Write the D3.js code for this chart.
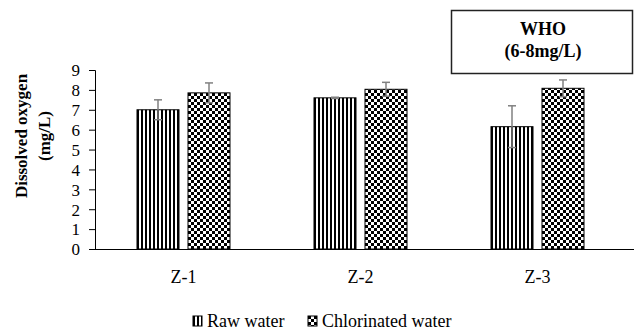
<!DOCTYPE html>
<html>
<head>
<meta charset="utf-8">
<script src="https://cdn.jsdelivr.net/npm/d3@7"></script>
<style>
  body { margin: 0; background: #fff; }
  svg text { font-family: "Liberation Serif", "Times New Roman", "DejaVu Serif", serif !important; fill: #000; }
</style>
</head>
<body>
<div id="chart"></div>
<script>
// datos
const zones = ["Z-1", "Z-2", "Z-3"];
const seriesNames = ["Raw water", "Chlorinated water"];
const rawValues = [7.0, 7.6, 6.15];
const rawErrors = [0.5, 0.03, 1.05];
const chlorValues = [7.85, 8.03, 8.08];
const chlorErrors = [0.5, 0.35, 0.42];
const yTicks = [0, 1, 2, 3, 4, 5, 6, 7, 8, 9];

const width = 634;
const height = 331;
const marginLeft = 95;
const marginTop = 70;
const plotBottom = 249;

const svg = d3.select("#chart").append("svg")
  .attr("width", width)
  .attr("height", height)
  .attr("viewBox", [0, 0, width, height]);

// patrones: rayas verticales y damero
const defs = svg.append("defs");
const stripes = defs.append("pattern")
  .attr("id", "stripes")
  .attr("patternUnits", "userSpaceOnUse")
  .attr("width", 4).attr("height", 4);
stripes.append("rect").attr("width", 4).attr("height", 4).attr("fill", "#fff");
stripes.append("rect").attr("width", 2).attr("height", 4).attr("fill", "#000");

const checker = defs.append("pattern")
  .attr("id", "checker")
  .attr("patternUnits", "userSpaceOnUse")
  .attr("width", 6).attr("height", 6);
checker.append("rect").attr("width", 6).attr("height", 6).attr("fill", "#fff");
checker.append("rect").attr("width", 3).attr("height", 3).attr("fill", "#000");
checker.append("rect").attr("x", 3).attr("y", 3).attr("width", 3).attr("height", 3).attr("fill", "#000");

const fills = ["url(#stripes)", "url(#checker)"];

const data = zones.map((z, i) => ({
  zone: z,
  values: [
    { key: 0, v: rawValues[i], e: rawErrors[i] },
    { key: 1, v: chlorValues[i], e: chlorErrors[i] }
  ]
}));

// escalas
const x = d3.scaleBand()
  .domain(zones)
  .range([marginLeft, 626])
  .padding(0);

const barW = 42;
const gap = 9;
const xSub = d3.scaleBand()
  .domain([0, 1])
  .range([0, 2 * barW + gap])
  .paddingInner(gap / (barW + gap));

const y = d3.scaleLinear()
  .domain([0, 9])
  .range([plotBottom, marginTop]);

// barras
const groups = svg.append("g")
  .selectAll("g")
  .data(data)
  .join("g")
  .attr("transform", d => `translate(${x(d.zone) + x.bandwidth() / 2 - (2 * barW + gap) / 2},0)`);

groups.selectAll("rect")
  .data(d => d.values)
  .join("rect")
  .attr("x", d => xSub(d.key))
  .attr("y", d => y(d.v))
  .attr("width", xSub.bandwidth())
  .attr("height", d => y(0) - y(d.v))
  .attr("fill", d => fills[d.key])
  .attr("stroke", "#000")
  .attr("stroke-width", 1);

// barras de error
const err = groups.selectAll("g.err")
  .data(d => d.values)
  .join("g")
  .attr("class", "err")
  .attr("stroke", "#808080")
  .attr("stroke-width", 1.5);

const cx = d => xSub(d.key) + xSub.bandwidth() / 2;
err.append("line")
  .attr("x1", cx).attr("x2", cx)
  .attr("y1", d => y(d.v + d.e))
  .attr("y2", d => y(d.v - d.e));
err.append("line")
  .attr("x1", d => cx(d) - 4).attr("x2", d => cx(d) + 4)
  .attr("y1", d => y(d.v + d.e))
  .attr("y2", d => y(d.v + d.e));
err.append("line")
  .attr("x1", d => cx(d) - 4).attr("x2", d => cx(d) + 4)
  .attr("y1", d => y(d.v - d.e))
  .attr("y2", d => y(d.v - d.e));

// eje Y
svg.append("g")
  .attr("transform", `translate(${marginLeft},0)`)
  .call(d3.axisLeft(y).tickValues(yTicks).tickSize(6).tickSizeOuter(6).tickPadding(9))
  .call(g => g.select(".domain").attr("stroke", "#000"))
  .call(g => g.selectAll(".tick line").attr("stroke", "#000"))
  .call(g => g.selectAll(".tick text")
    .attr("font-size", 17)
    .attr("dy", "0.34em"));

// eje X
svg.append("g")
  .attr("transform", `translate(0,${plotBottom + 0.5})`)
  .call(d3.axisBottom(x).tickSize(0).tickSizeOuter(0).tickPadding(21))
  .call(g => g.select(".domain").attr("stroke", "#000").attr("d", `M${marginLeft},0H${width}`))
  .call(g => g.selectAll(".tick text").attr("font-size", 18));

// título del eje Y
const yLabel = svg.append("text")
  .attr("transform", "translate(0,136) rotate(-90)")
  .attr("text-anchor", "middle")
  .attr("font-weight", "bold")
  .attr("font-size", 17);
yLabel.append("tspan").attr("x", 0).attr("y", 27).text("Dissolved oxygen");
yLabel.append("tspan").attr("x", 0).attr("y", 50).text("(mg/L)");

// recuadro WHO
svg.append("rect")
  .attr("x", 451.5).attr("y", 10.5)
  .attr("width", 181).attr("height", 63)
  .attr("fill", "#fff")
  .attr("stroke", "#222")
  .attr("stroke-width", 1.5);
svg.append("text")
  .attr("x", 543).attr("y", 35)
  .attr("text-anchor", "middle")
  .attr("font-weight", "bold")
  .attr("font-size", 18)
  .text("WHO");
svg.append("text")
  .attr("x", 543).attr("y", 57)
  .attr("text-anchor", "middle")
  .attr("font-weight", "bold")
  .attr("font-size", 18)
  .text("(6-8mg/L)");

// leyenda
const legendX = [193, 308];
const legend = svg.append("g")
  .selectAll("g")
  .data(seriesNames)
  .join("g")
  .attr("transform", (d, i) => `translate(${legendX[i]},316)`);
legend.append("rect")
  .attr("width", 9).attr("height", 10)
  .attr("fill", (d, i) => fills[i])
  .attr("stroke", "#000")
  .attr("stroke-width", 1);
legend.append("text")
  .attr("x", 14).attr("y", 10.5)
  .attr("font-size", 18)
  .text(d => d);
</script>
</body>
</html>
